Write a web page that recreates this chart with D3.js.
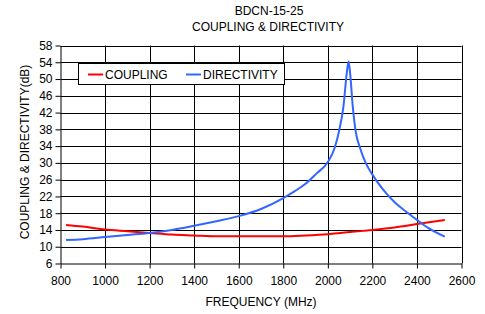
<!DOCTYPE html>
<html lang="en">
<head>
<meta charset="utf-8">
<title>BDCN-15-25 Coupling & Directivity</title>
<script src="https://d3js.org/d3.v7.min.js"></script>
<style>
  body { margin: 0; background: #fff; }
  text { font-family: "Liberation Sans", Arial, sans-serif; fill: #000; }
</style>
</head>
<body>
<script>
// coupling curve
var couplingFreq = [825, 900, 1000, 1100, 1200, 1300, 1400, 1500, 1600, 1700, 1800, 1900, 2000, 2100, 2200, 2300, 2400, 2525];
var couplingDb = [15.2, 14.8, 14.1, 13.7, 13.3, 12.9, 12.7, 12.5, 12.5, 12.5, 12.5, 12.7, 13.0, 13.5, 14.0, 14.6, 15.4, 16.4];

// directivity curve
var directFreq = [825, 900, 1000, 1100, 1200, 1300, 1400, 1500, 1600, 1700, 1800, 1850, 1900, 1950, 2000, 2030, 2050, 2070, 2085, 2093, 2100, 2112, 2125, 2145, 2170, 2200, 2250, 2300, 2350, 2400, 2450, 2525];
var directDb = [11.6, 11.8, 12.3, 12.8, 13.3, 14.0, 15.0, 16.1, 17.3, 19.0, 21.6, 23.2, 25.0, 27.5, 30.2, 33.5, 37.5, 43.4, 51.4, 54.2, 51.4, 43.4, 37.5, 33.5, 30.0, 27.2, 23.5, 20.6, 18.4, 16.4, 14.5, 12.4];

var xTicks = [800, 1000, 1200, 1400, 1600, 1800, 2000, 2200, 2400, 2600];
var yTicks = [6, 10, 14, 18, 22, 26, 30, 34, 38, 42, 46, 50, 54, 58];

var w = 485, h = 314;
var plotL = 60.5, plotR = 461.5, plotT = 45.5, plotB = 263.5;

var svg = d3.select("body").append("svg").attr("width", w).attr("height", h);

var x = d3.scaleLinear().domain([800, 2600]).range([plotL, plotR]);
var y = d3.scaleLinear().domain([6, 58]).range([plotB, plotT]);

// grid
svg.selectAll("line.vg").data(xTicks.slice(1)).enter().append("line")
  .attr("x1", d => Math.round(x(d)) + 0.5).attr("x2", d => Math.round(x(d)) + 0.5)
  .attr("y1", plotT).attr("y2", plotB)
  .attr("stroke", "#000").attr("stroke-width", 1);
svg.selectAll("line.hg").data(yTicks.slice(1)).enter().append("line")
  .attr("y1", d => Math.round(y(d)) + 0.5).attr("y2", d => Math.round(y(d)) + 0.5)
  .attr("x1", plotL).attr("x2", plotR)
  .attr("stroke", "#000").attr("stroke-width", 1);

// axes
var xAxis = d3.axisBottom(x).tickValues(xTicks).tickFormat(d3.format("d"))
  .tickSize(5).tickSizeOuter(0).tickPadding(8);
var yAxis = d3.axisLeft(y).tickValues(yTicks).tickFormat(d3.format("d"))
  .tickSize(5).tickSizeOuter(0).tickPadding(3);

var gx = svg.append("g").attr("transform", "translate(0," + plotB + ")").call(xAxis);
var gy = svg.append("g").attr("transform", "translate(" + plotL + ",0)").call(yAxis);
[gx, gy].forEach(function (g) {
  g.selectAll("path, line").attr("stroke", "#000");
  g.selectAll("text").style("font-size", "12px").attr("fill", "#000");
});

// lines
var line = d3.line().x(d => x(d[0])).y(d => y(d[1])).curve(d3.curveMonotoneX);
svg.append("path").datum(d3.zip(couplingFreq, couplingDb)).attr("d", line)
  .attr("fill", "none").attr("stroke", "#ff0000").attr("stroke-width", 2);
svg.append("path").datum(d3.zip(directFreq, directDb)).attr("d", line)
  .attr("fill", "none").attr("stroke", "#3366ff").attr("stroke-width", 2);

// legend
var lg = svg.append("g");
lg.append("rect").attr("x", 78.5).attr("y", 63.5).attr("width", 206).attr("height", 21)
  .attr("fill", "#fff").attr("stroke", "#000");
lg.append("line").attr("x1", 88).attr("x2", 103).attr("y1", 74.5).attr("y2", 74.5)
  .attr("stroke", "#ff0000").attr("stroke-width", 2);
lg.append("text").attr("x", 105).attr("y", 79).style("font-size", "12px").text("COUPLING");
lg.append("line").attr("x1", 186).attr("x2", 201).attr("y1", 74.5).attr("y2", 74.5)
  .attr("stroke", "#3366ff").attr("stroke-width", 2);
lg.append("text").attr("x", 203).attr("y", 79).style("font-size", "12px").text("DIRECTIVITY");

// titles
svg.append("text").attr("x", 269).attr("y", 15).attr("text-anchor", "middle")
  .style("font-size", "12px").text("BDCN-15-25");
svg.append("text").attr("x", 268).attr("y", 31).attr("text-anchor", "middle")
  .style("font-size", "12px").text("COUPLING & DIRECTIVITY");
svg.append("text").attr("x", 261).attr("y", 306).attr("text-anchor", "middle")
  .style("font-size", "12px").text("FREQUENCY (MHz)");
svg.append("text").attr("transform", "translate(29,152) rotate(-90)").attr("text-anchor", "middle")
  .style("font-size", "12px").text("COUPLING & DIRECTIVITY(dB)");
</script>
</body>
</html>
